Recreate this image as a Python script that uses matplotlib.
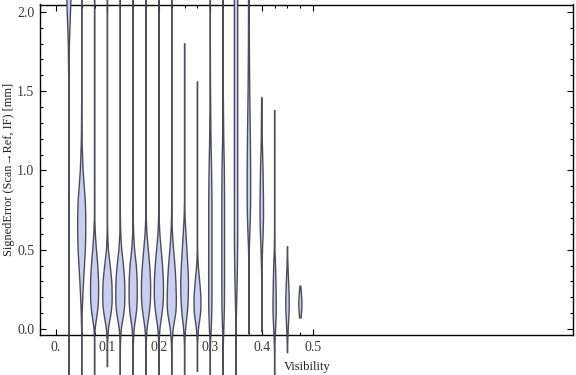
import numpy as np
import matplotlib
matplotlib.use("Agg")
import matplotlib.pyplot as plt

# ---- data -------------------------------------------------------------
positions = [0.025, 0.05, 0.075, 0.1, 0.125, 0.15, 0.175, 0.2, 0.225, 0.25,
             0.275, 0.3, 0.325, 0.35, 0.375, 0.4, 0.425, 0.45, 0.475]
lower_end = [-0.35, -0.35, -0.35, -0.24, -0.35, -0.35, -0.35, -0.35, -0.35, -0.35,
             -0.27, -0.35, -0.35, -0.35, -0.03, -0.02, -0.35, -0.15, 0.07]
upper_end = [2.5, 2.5, 2.5, 2.5, 2.5, 2.5, 2.5, 2.5, 2.5, 1.80,
             1.56, 2.5, 2.5, 2.5, 2.5, 1.46, 1.38, 0.52, 0.27]

# density profile (relative half-width) at these error levels
levels = [-0.35, -0.2, -0.1, 0.0, 0.1, 0.15, 0.2, 0.3, 0.4, 0.5, 0.6, 0.7,
          0.8, 1.0, 1.2, 1.5, 1.8, 2.1, 2.5]
density = [
    [0, 0, 0, 0, 0, 0, 0, 0, 0, 0, 0, 0, 0, 0, 0, 0, 0.6, 2.4, 2.8],
    [0, 0, 0, 0.1, 0.5, 0.8, 1.2, 2.0, 3.0, 4.0, 4.4, 4.4, 4.0, 1.5, 0.3, 0, 0, 0, 0],
    [0, 0, 0, 0.5, 3.0, 4.0, 4.4, 4.4, 3.5, 2.0, 0.8, 0.2, 0, 0, 0, 0, 0, 0, 0],
    [0, 0, 0.1, 1.0, 4.0, 5.0, 5.2, 4.8, 3.0, 1.0, 0.3, 0, 0, 0, 0, 0, 0, 0, 0],
    [0, 0, 0.1, 1.0, 4.0, 4.8, 5.0, 4.8, 3.5, 1.5, 0.5, 0.1, 0, 0, 0, 0, 0, 0, 0],
    [0, 0, 0.1, 1.0, 3.5, 4.2, 4.5, 4.4, 3.5, 1.5, 0.5, 0.1, 0, 0, 0, 0, 0, 0, 0],
    [0, 0, 0.1, 1.0, 3.5, 4.5, 5.0, 5.0, 4.0, 2.5, 1.0, 0.3, 0, 0, 0, 0, 0, 0, 0],
    [0, 0, 0.1, 1.0, 3.5, 4.5, 5.0, 5.0, 4.0, 2.5, 1.0, 0.3, 0, 0, 0, 0, 0, 0, 0],
    [0, 0, 0.2, 1.5, 4.5, 5.0, 5.0, 4.5, 3.5, 2.0, 0.8, 0.2, 0, 0, 0, 0, 0, 0, 0],
    [0, 0, 0.1, 1.0, 3.0, 3.6, 4.0, 4.3, 3.5, 2.5, 1.5, 0.5, 0.1, 0, 0, 0, 0, 0, 0],
    [0, 0, 0.1, 1.0, 3.5, 3.8, 3.8, 2.5, 0.8, 0.2, 0, 0, 0, 0, 0, 0, 0, 0, 0],
    [0, 0, 0.1, 1.0, 1.6, 1.8, 1.8, 1.8, 1.8, 1.8, 1.8, 1.8, 1.8, 1.4, 0.7, 0.2, 0, 0, 0],
    [0, 0, 0.1, 0.7, 1.2, 1.4, 1.4, 1.5, 1.5, 1.5, 1.5, 1.5, 1.5, 1.3, 0.6, 0.1, 0, 0, 0],
    [0, 0, 0, 0.1, 0.4, 0.6, 0.8, 1.2, 1.5, 1.7, 1.8, 1.8, 1.8, 1.8, 1.8, 1.8, 1.8, 1.8, 1.8],
    [0, 0, 0, 0, 0, 0, 0, 0, 0.1, 0.4, 1.0, 1.6, 1.9, 1.9, 1.6, 0.9, 0.5, 0.4, 0.4],
    [0, 0, 0, 0, 0, 0, 0, 0, 0.3, 0.8, 1.5, 1.9, 1.9, 1.4, 0.5, 0.1, 0, 0, 0],
    [0, 0, 0.3, 1.0, 1.8, 1.8, 1.7, 1.4, 1.0, 0.3, 0.1, 0, 0, 0, 0, 0, 0, 0, 0],
    [0, 0, 0.2, 0.8, 1.7, 1.9, 1.9, 1.2, 0.5, 0.1, 0, 0, 0, 0, 0, 0, 0, 0, 0],
    [0, 0, 0, 0, 1.2, 1.9, 1.5, 0, 0, 0, 0, 0, 0, 0, 0, 0, 0, 0, 0],
]

xtick_pos = [0.0, 0.1, 0.2, 0.3, 0.4, 0.5]
xtick_labels = ["0.", "0.1", "0.2", "0.3", "0.4", "0.5"]
ytick_pos = [0.0, 0.5, 1.0, 1.5, 2.0]
ytick_labels = ["0.0", "0.5", "1.0", "1.5", "2.0"]

# ---- figure -----------------------------------------------------------
plt.rcParams["font.family"] = ["Liberation Serif", "DejaVu Serif"]
fig = plt.figure(figsize=(5.76, 3.75), dpi=100)
ax = fig.add_axes([40 / 576, 40 / 375, 533 / 576, 330.5 / 375])
ax.set_xlim(-0.0311, 1.005)
ax.set_ylim(-0.038, 2.046)

WIDTH_SCALE = 0.025 / 14.0  # density unit -> visibility units
fill_col = "#c9cef3"
edge_col = (0.25, 0.25, 0.29, 0.92)

for pos, lo, hi, dens in zip(positions, lower_end, upper_end, density):
    yy = np.linspace(lo, hi, 600)
    fine = np.linspace(-0.4, 2.6, 3001)
    w = np.interp(fine, levels, dens)
    k = np.exp(-0.5 * (np.arange(-60, 61) / 22.0) ** 2)
    k /= k.sum()
    w = np.convolve(w, k, mode="same")
    hw = np.interp(yy, fine, w) * WIDTH_SCALE
    xs = np.concatenate([pos - hw, (pos + hw)[::-1]])
    ys = np.concatenate([yy, yy[::-1]])
    ax.fill(xs, ys, facecolor=fill_col, edgecolor=edge_col, linewidth=1.0,
            clip_on=False, zorder=4)

# frame and ticks
for s in ax.spines.values():
    s.set_linewidth(1.0)
    s.set_color("black")

ax.set_xticks(xtick_pos)
ax.set_xticklabels(xtick_labels)
ax.set_xticks(np.arange(0, 21) * 0.025, minor=True)
ax.set_yticks(ytick_pos)
ax.set_yticklabels(ytick_labels)
ax.set_yticks(np.arange(0, 21) * 0.1, minor=True)
ax.tick_params(which="both", direction="in", top=True, right=True,
               colors="black", labelcolor="#3a3a3a", labelsize=10)
ax.tick_params(which="major", length=4, width=0.8)
ax.tick_params(which="minor", length=2.5, width=0.8)
ax.tick_params(axis="x", which="major", pad=4)
ax.tick_params(axis="y", which="major", pad=4)

fig.text(307 / 576, 1 - 367 / 375, "Visibility", ha="center", va="center",
         fontsize=9, color="#222222")
fig.text(9 / 576, 1 - 169 / 375, "SignedError (Scan\u2192Ref, IF) [mm]",
         ha="center", va="center", rotation=90, fontsize=8.8, color="#222222")

fig.savefig("out.png", dpi=100)
